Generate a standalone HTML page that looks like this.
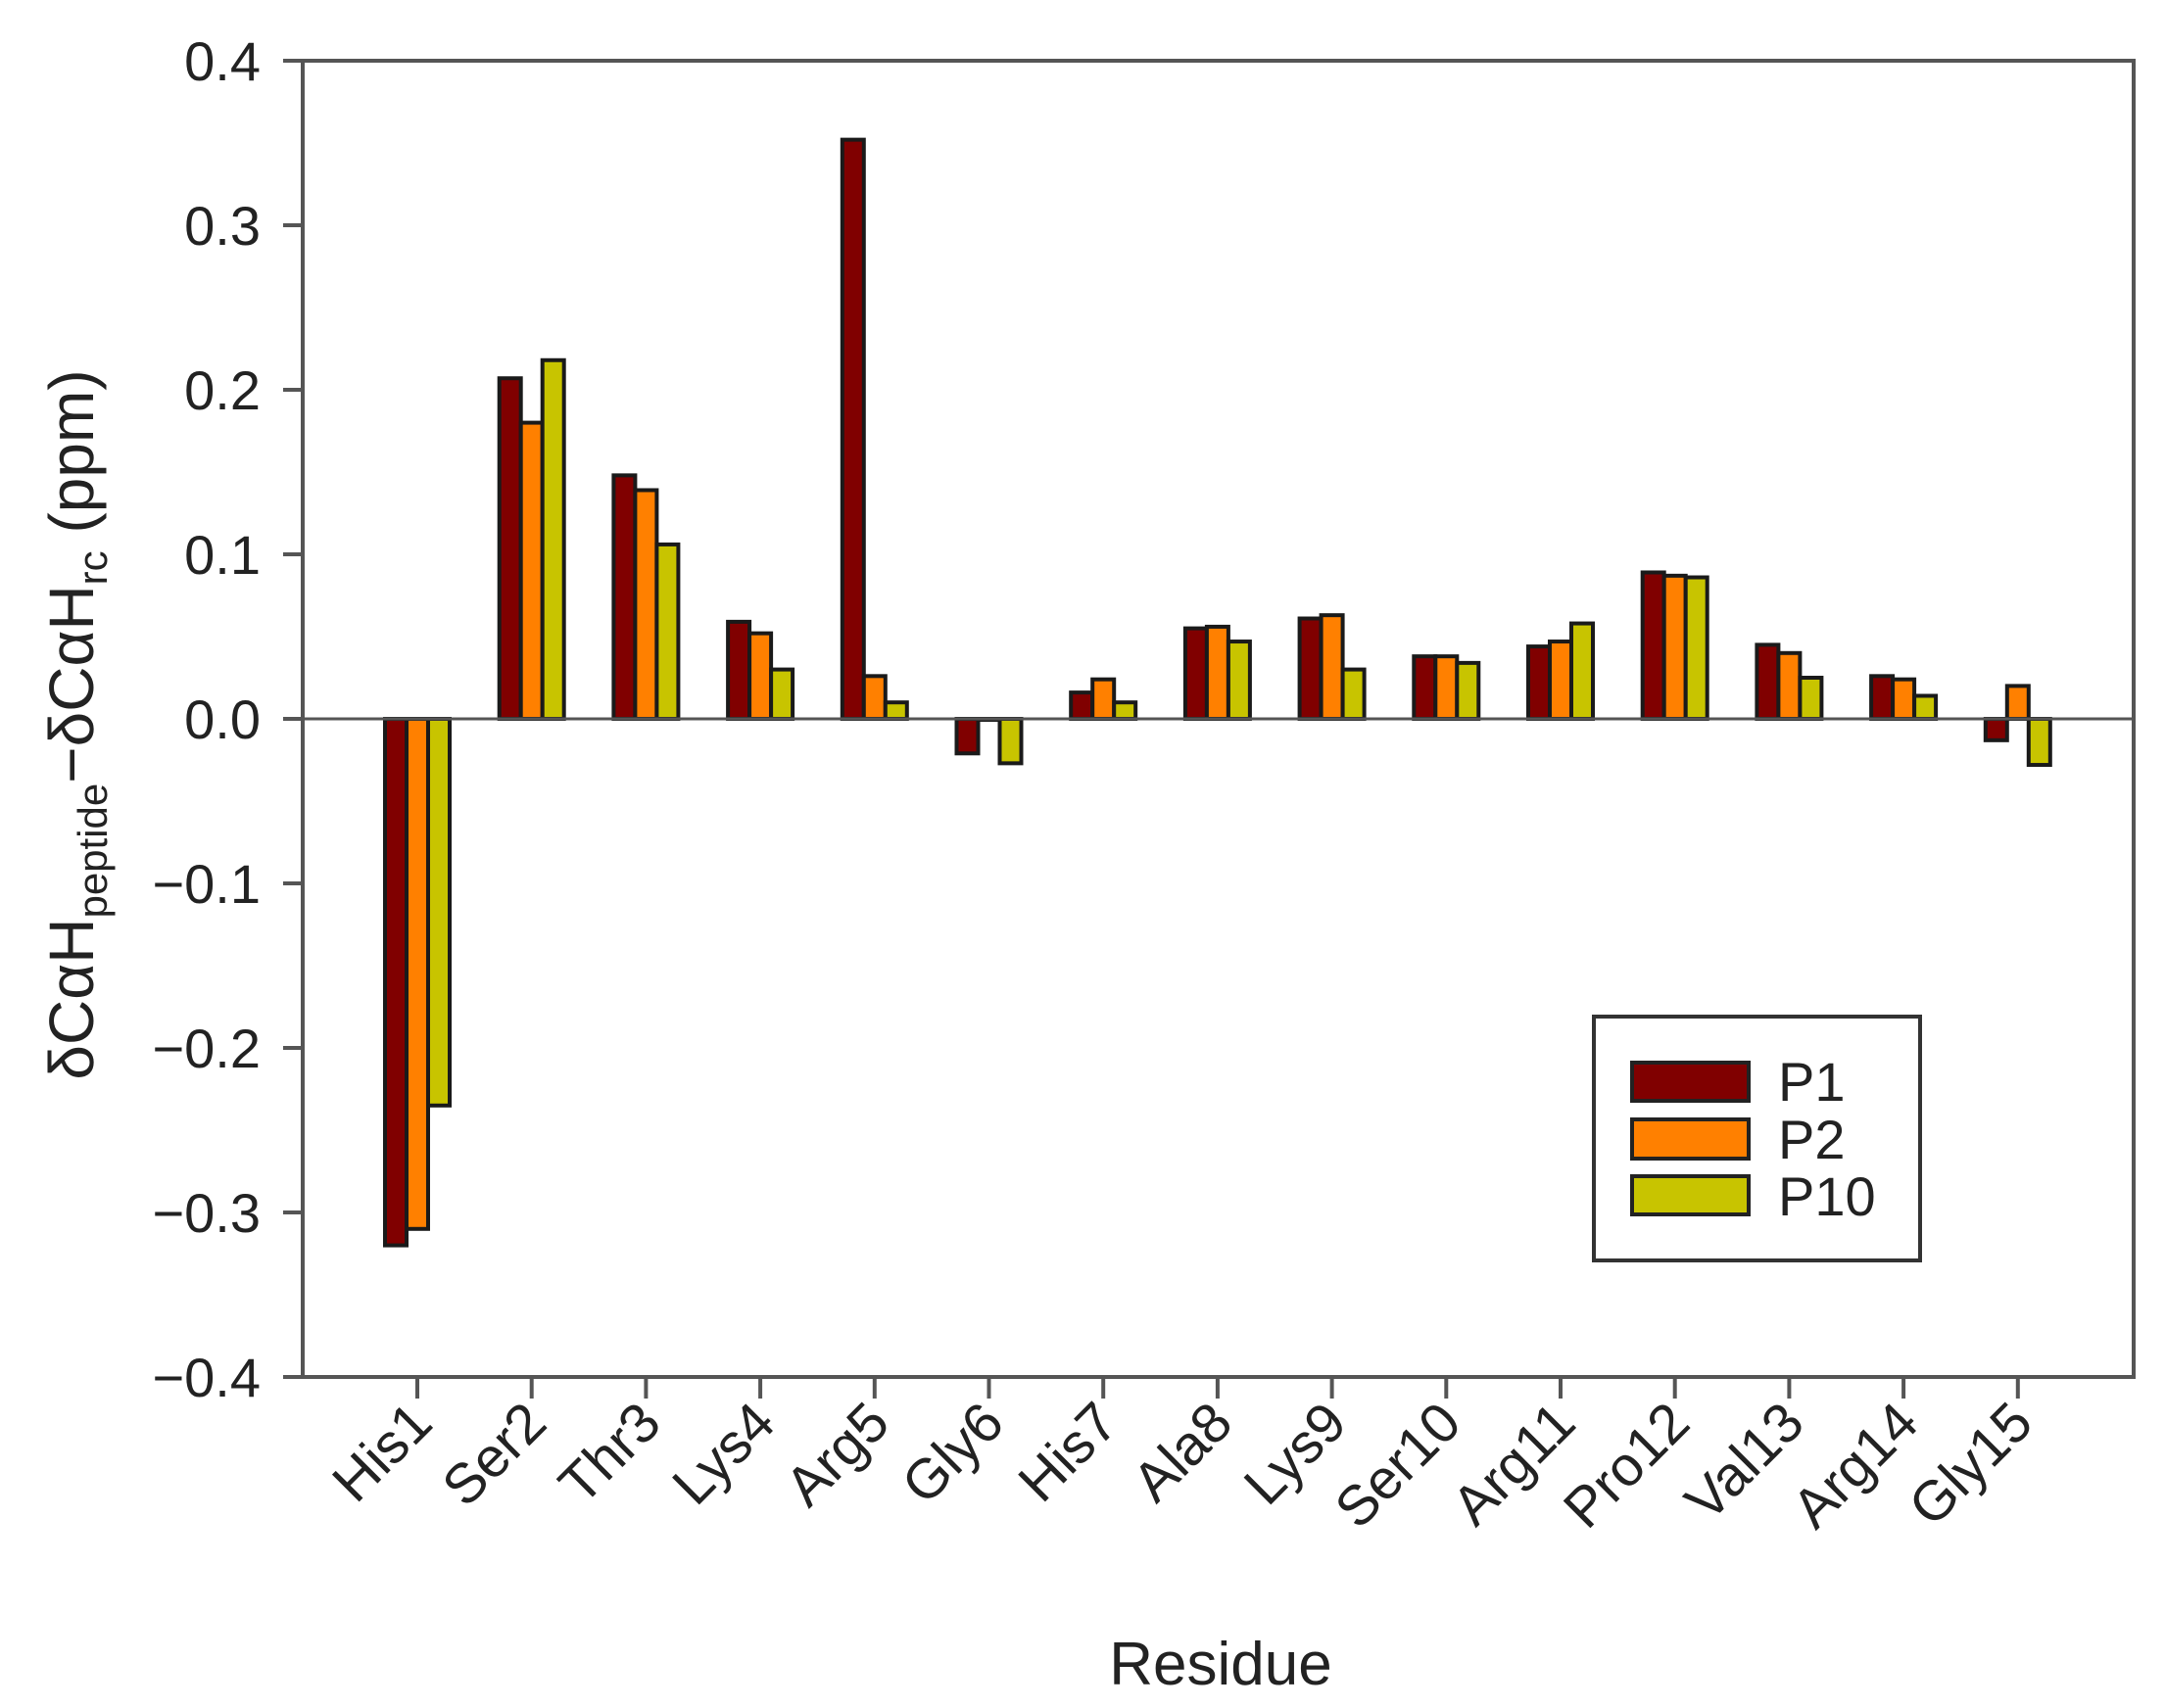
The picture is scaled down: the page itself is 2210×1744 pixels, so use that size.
<!DOCTYPE html>
<html><head><meta charset="utf-8"><style>
html,body{margin:0;padding:0;background:#fff;}
svg{display:block;font-family:"Liberation Sans",Arial,sans-serif;}
</style></head><body>
<svg id="chart" width="2210" height="1744" viewBox="0 0 2210 1744" xmlns="http://www.w3.org/2000/svg">
<rect x="0" y="0" width="2210" height="1744" fill="#fff"/>
<g id="bars"></g>
<g id="axes"></g>
<g id="legend">
  <rect x="1627" y="1038" width="333" height="249" fill="#fff" stroke="#333" stroke-width="4"/>
  <rect x="1666" y="1085" width="119" height="39" fill="#800000" stroke="#222" stroke-width="4"/>
  <rect x="1666" y="1143" width="119" height="40" fill="#ff8000" stroke="#222" stroke-width="4"/>
  <rect x="1666" y="1201" width="119" height="39" fill="#c8c400" stroke="#222" stroke-width="4"/>
  <text x="1815" y="1124" font-size="56" fill="#222">P1</text>
  <text x="1815" y="1183" font-size="56" fill="#222">P2</text>
  <text x="1815" y="1241" font-size="56" fill="#222">P10</text>
</g>
<text x="1246" y="1720" font-size="62" fill="#222" text-anchor="middle">Residue</text>
<text transform="translate(95,740) rotate(-90)" font-size="64" fill="#222" text-anchor="middle">δCαH<tspan font-size="42" dy="14">peptide</tspan><tspan dy="-14">−δCαH</tspan><tspan font-size="42" dy="14">rc</tspan><tspan dy="-14"> (ppm)</tspan></text>
</svg>
<script>
const categories = ["His1","Ser2","Thr3","Lys4","Arg5","Gly6","His7","Ala8","Lys9","Ser10","Arg11","Pro12","Val13","Arg14","Gly15"];
const p1Values = [-0.320,0.207,0.148,0.059,0.352,-0.021,0.016,0.055,0.061,0.038,0.044,0.089,0.045,0.026,-0.013];
const p2Values = [-0.310,0.180,0.139,0.052,0.026,0.000,0.024,0.056,0.063,0.038,0.047,0.087,0.040,0.024,0.020];
const p10Values = [-0.235,0.218,0.106,0.030,0.010,-0.027,0.010,0.047,0.030,0.034,0.058,0.086,0.025,0.014,-0.028];
const yTickValues = [0.4,0.3,0.2,0.1,0.0,-0.1,-0.2,-0.3,-0.4];
const yTickLabels = ["0.4","0.3","0.2","0.1","0.0","−0.1","−0.2","−0.3","−0.4"];

const NS = "http://www.w3.org/2000/svg";
const L = 309, R = 2178, T = 62, B = 1406;
const yMin = -0.4, yMax = 0.4;
function yScale(v){ return B - (v - yMin) / (yMax - yMin) * (B - T); }
function xScale(i){ return 426 + i * 116.7; }
const barW = 22;
const series = [
  {name:"p1", vals:p1Values, color:"#800000"},
  {name:"p2", vals:p2Values, color:"#ff8000"},
  {name:"p10", vals:p10Values, color:"#c8c400"}
];
function mk(tag, attrs, parent){
  const e = document.createElementNS(NS, tag);
  for (const k in attrs) e.setAttribute(k, attrs[k]);
  parent.appendChild(e);
  return e;
}
const barsG = document.getElementById('bars');
const axesG = document.getElementById('axes');
const y0 = yScale(0);
series.forEach((s, si) => {
  s.vals.forEach((v, i) => {
    const x = xScale(i) - 1.5 * barW + si * barW;
    const y1 = yScale(v);
    const r = mk('rect', {x: x, y: Math.min(y0, y1), width: barW, height: Math.max(Math.abs(y1 - y0), 1), fill: s.color, stroke: '#1a1a1a', 'stroke-width': 4}, barsG);
    
    
  });
});
const fr = mk('rect', {x: L, y: T, width: R - L, height: B - T, fill: 'none', stroke: '#555', 'stroke-width': 4}, axesG);


const zl = mk('line', {x1: L, x2: R, y1: y0, y2: y0, stroke: '#555', 'stroke-width': 3}, axesG);


yTickValues.forEach((v, i) => {
  const y = yScale(v);
  const t = mk('line', {x1: L - 20, x2: L, y1: y, y2: y, stroke: '#555', 'stroke-width': 4}, axesG);
  
  
  const tx = mk('text', {x: 266, y: y + 20, 'font-size': 56, fill: '#222', 'text-anchor': 'end'}, axesG);
  tx.textContent = yTickLabels[i];
  
  
});
categories.forEach((c, i) => {
  const x = xScale(i);
  const t = mk('line', {x1: x, x2: x, y1: B, y2: B + 22, stroke: '#555', 'stroke-width': 4}, axesG);
  
  
  const tx = mk('text', {transform: 'translate(' + (x + 18) + ',' + (B + 50) + ') rotate(-45)', 'font-size': 57, fill: '#222', 'text-anchor': 'end'}, axesG);
  tx.textContent = c;
  
  
});
</script>
</body></html>
